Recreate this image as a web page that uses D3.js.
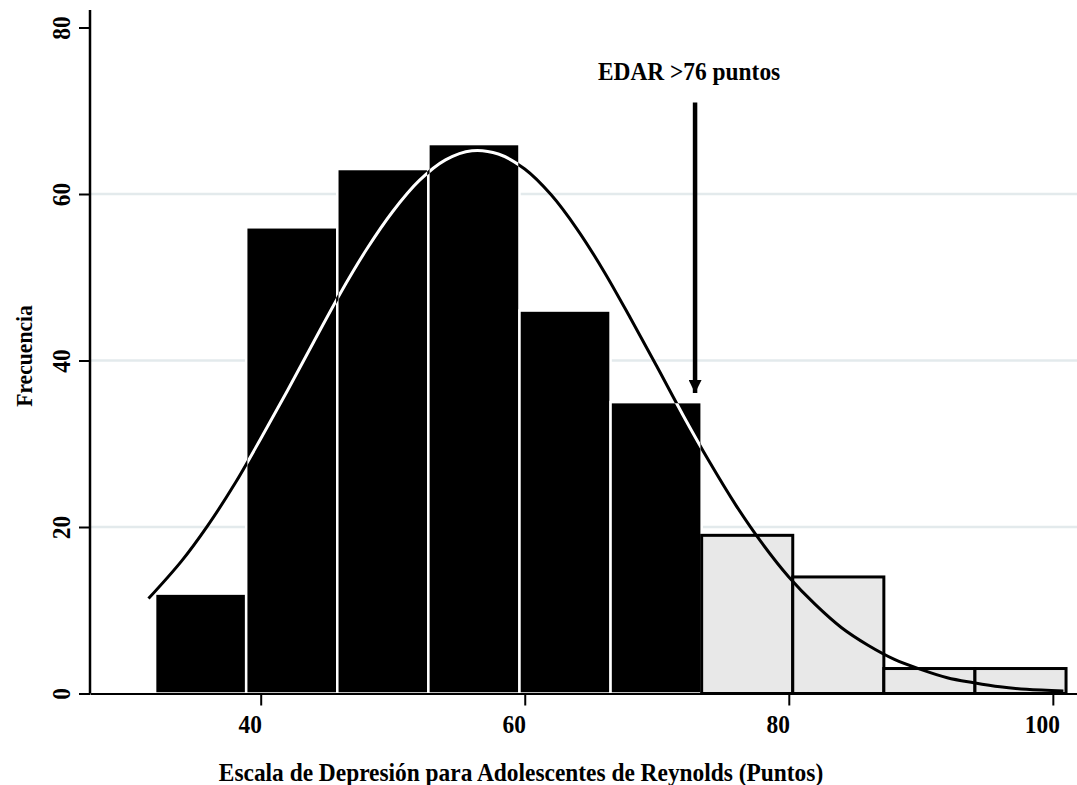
<!DOCTYPE html>
<html>
<head>
<meta charset="utf-8">
<script src="https://cdn.jsdelivr.net/npm/d3@7"></script>
<style>
  body { margin: 0; background: #fff; }
  svg text { font-family: "Liberation Serif", "Times New Roman", serif; font-weight: bold; fill: #000; }
</style>
</head>
<body>
<div id="chart"></div>
<script>
// Histogram bins (left edge of each bin, all bins 6.9 points wide)
const binLeft = [32.0, 38.9, 45.8, 52.7, 59.6, 66.5, 73.4, 80.3, 87.2, 94.1];
const binWidth = 6.9;
const frequencies = [12, 56, 63, 66, 46, 35, 19, 14, 3, 3];
// bins at or above the cutoff are drawn in light grey
const cutoffBin = 6;

// Overlaid normal curve
const curveX = [31.5, 34, 36, 38, 40, 42, 44, 46, 48, 50, 52, 54, 56, 58, 60, 62, 64, 66, 68, 70,
                72, 74, 76, 78, 80, 82, 84, 86, 88, 90, 92, 94, 96, 98, 100.8];
const curveY = [11.4, 15.9, 20.2, 25.1, 30.6, 36.3, 42.2, 48.0, 53.3, 57.9, 61.6, 64.1, 65.2, 64.8, 63.0, 59.9, 55.7, 50.7, 45.1, 39.3,
                33.4, 27.8, 22.6, 18.0, 14.0, 10.7, 7.9, 5.8, 4.1, 2.9, 1.9, 1.3, 0.8, 0.5, 0.3];

const xTicks = [40, 60, 80, 100];
const yTicks = [0, 20, 40, 60, 80];
const gridTicks = [20, 40, 60];

const annotationText = "EDAR >76 puntos";
const arrowX = 72.9;
const arrowFrom = 71;   // frequency units
const arrowTo = 36.1;

const xTitle = "Escala de Depresión para Adolescentes de Reynolds (Puntos)";
const yTitle = "Frecuencia";

// Layout
const W = 1077, H = 785;
const plot = { left: 90, right: 1077, top: 10, bottom: 693.5 };
const fontSize = "26px";
const squeeze = 0.9; // the original type is a narrow bold serif

const svg = d3.select("#chart").append("svg")
    .attr("width", W)
    .attr("height", H);

const x = d3.scaleLinear()
    .domain([27.07, 101.83])
    .range([plot.left, plot.right]);

const y = d3.scaleLinear()
    .domain([0, 80])
    .range([plot.bottom, 27.5]);

// light grid lines
svg.append("g")
    .selectAll("line")
    .data(gridTicks)
    .join("line")
    .attr("x1", plot.left)
    .attr("x2", plot.right)
    .attr("y1", d => y(d))
    .attr("y2", d => y(d))
    .attr("stroke", "#e3eaec")
    .attr("stroke-width", 2.5);

const bins = binLeft.map((b, i) => ({ x0: b, x1: b + binWidth, n: frequencies[i], high: i >= cutoffBin }));

// black bars with white outline
svg.append("g")
    .selectAll("rect")
    .data(bins.filter(d => !d.high))
    .join("rect")
    .attr("x", d => x(d.x0))
    .attr("y", d => y(d.n))
    .attr("width", d => x(d.x1) - x(d.x0))
    .attr("height", d => y(0) - y(d.n))
    .attr("fill", "#000")
    .attr("stroke", "#fff")
    .attr("stroke-width", 2.5);

// grey bars with black outline
svg.append("g")
    .selectAll("rect")
    .data(bins.filter(d => d.high))
    .join("rect")
    .attr("x", d => x(d.x0))
    .attr("y", d => y(d.n))
    .attr("width", d => x(d.x1) - x(d.x0))
    .attr("height", d => y(0) - y(d.n))
    .attr("fill", "#e8e8e8")
    .attr("stroke", "#000")
    .attr("stroke-width", 3);

// clip path of the black bars, so the curve turns white over them
svg.append("clipPath")
    .attr("id", "darkBars")
    .selectAll("rect")
    .data(bins.filter(d => !d.high))
    .join("rect")
    .attr("x", d => x(d.x0) + 1.2)
    .attr("y", d => y(d.n) + 1.2)
    .attr("width", d => x(d.x1) - x(d.x0) - 2.4)
    .attr("height", d => y(0) - y(d.n));

const curvePts = curveX.map((v, i) => [v, curveY[i]]);
const line = d3.line()
    .x(d => x(d[0]))
    .y(d => y(d[1]))
    .curve(d3.curveCatmullRom);

svg.append("path")
    .attr("d", line(curvePts))
    .attr("fill", "none")
    .attr("stroke", "#000")
    .attr("stroke-width", 3);

svg.append("path")
    .attr("d", line(curvePts))
    .attr("fill", "none")
    .attr("stroke", "#fff")
    .attr("stroke-width", 3)
    .attr("clip-path", "url(#darkBars)");

// x axis
const xAxis = svg.append("g")
    .attr("transform", `translate(0,${plot.bottom})`)
    .call(d3.axisBottom(x).tickValues(xTicks).tickSize(12).tickSizeOuter(0));
xAxis.select(".domain").attr("stroke", "#000").attr("stroke-width", 2.2);
xAxis.selectAll(".tick line").attr("stroke", "#000").attr("stroke-width", 2);
xAxis.selectAll(".tick text")
    .attr("x", -11 / squeeze)
    .attr("y", 40)
    .attr("dy", null)
    .attr("transform", `scale(${squeeze},1)`)
    .style("font-size", fontSize)
    .style("font-family", "Liberation Serif")
    .style("font-weight", "bold");

// y axis
const yAxis = svg.append("g")
    .attr("transform", `translate(${plot.left},0)`)
    .call(d3.axisLeft(y).tickValues(yTicks).tickSize(11).tickSizeOuter(0));
yAxis.select(".domain")
    .attr("d", `M0,${plot.top}V${plot.bottom}`)
    .attr("stroke", "#000")
    .attr("stroke-width", 2.5);
yAxis.selectAll(".tick line").attr("stroke", "#000").attr("stroke-width", 2);
yAxis.selectAll(".tick text")
    .attr("x", null)
    .attr("dy", null)
    .attr("text-anchor", "middle")
    .attr("transform", `translate(-20,0) rotate(-90) scale(${squeeze},1)`)
    .style("font-size", fontSize)
    .style("font-family", "Liberation Serif")
    .style("font-weight", "bold");

// axis titles
svg.append("text")
    .attr("transform", `translate(521,781) scale(${squeeze},1)`)
    .attr("text-anchor", "middle")
    .style("font-size", fontSize)
    .text(xTitle);

svg.append("text")
    .attr("transform", `translate(32,356) rotate(-90) scale(${squeeze},1)`)
    .attr("text-anchor", "middle")
    .style("font-size", "24px")
    .text(yTitle);

// cutoff annotation
svg.append("defs").append("marker")
    .attr("id", "head")
    .attr("viewBox", "0 0 10 10")
    .attr("refX", 10)
    .attr("refY", 5)
    .attr("markerUnits", "userSpaceOnUse")
    .attr("markerWidth", 13)
    .attr("markerHeight", 13)
    .attr("orient", "auto")
    .append("path")
    .attr("d", "M0,0L10,5L0,10Z")
    .attr("fill", "#000");

svg.append("line")
    .attr("x1", x(arrowX))
    .attr("x2", x(arrowX))
    .attr("y1", y(arrowFrom))
    .attr("y2", y(arrowTo))
    .attr("stroke", "#000")
    .attr("stroke-width", 4.5)
    .attr("marker-end", "url(#head)");

svg.append("text")
    .attr("transform", `translate(${x(arrowX) - 6},80) scale(${squeeze},1)`)
    .attr("text-anchor", "middle")
    .style("font-size", fontSize)
    .text(annotationText);
</script>
</body>
</html>
